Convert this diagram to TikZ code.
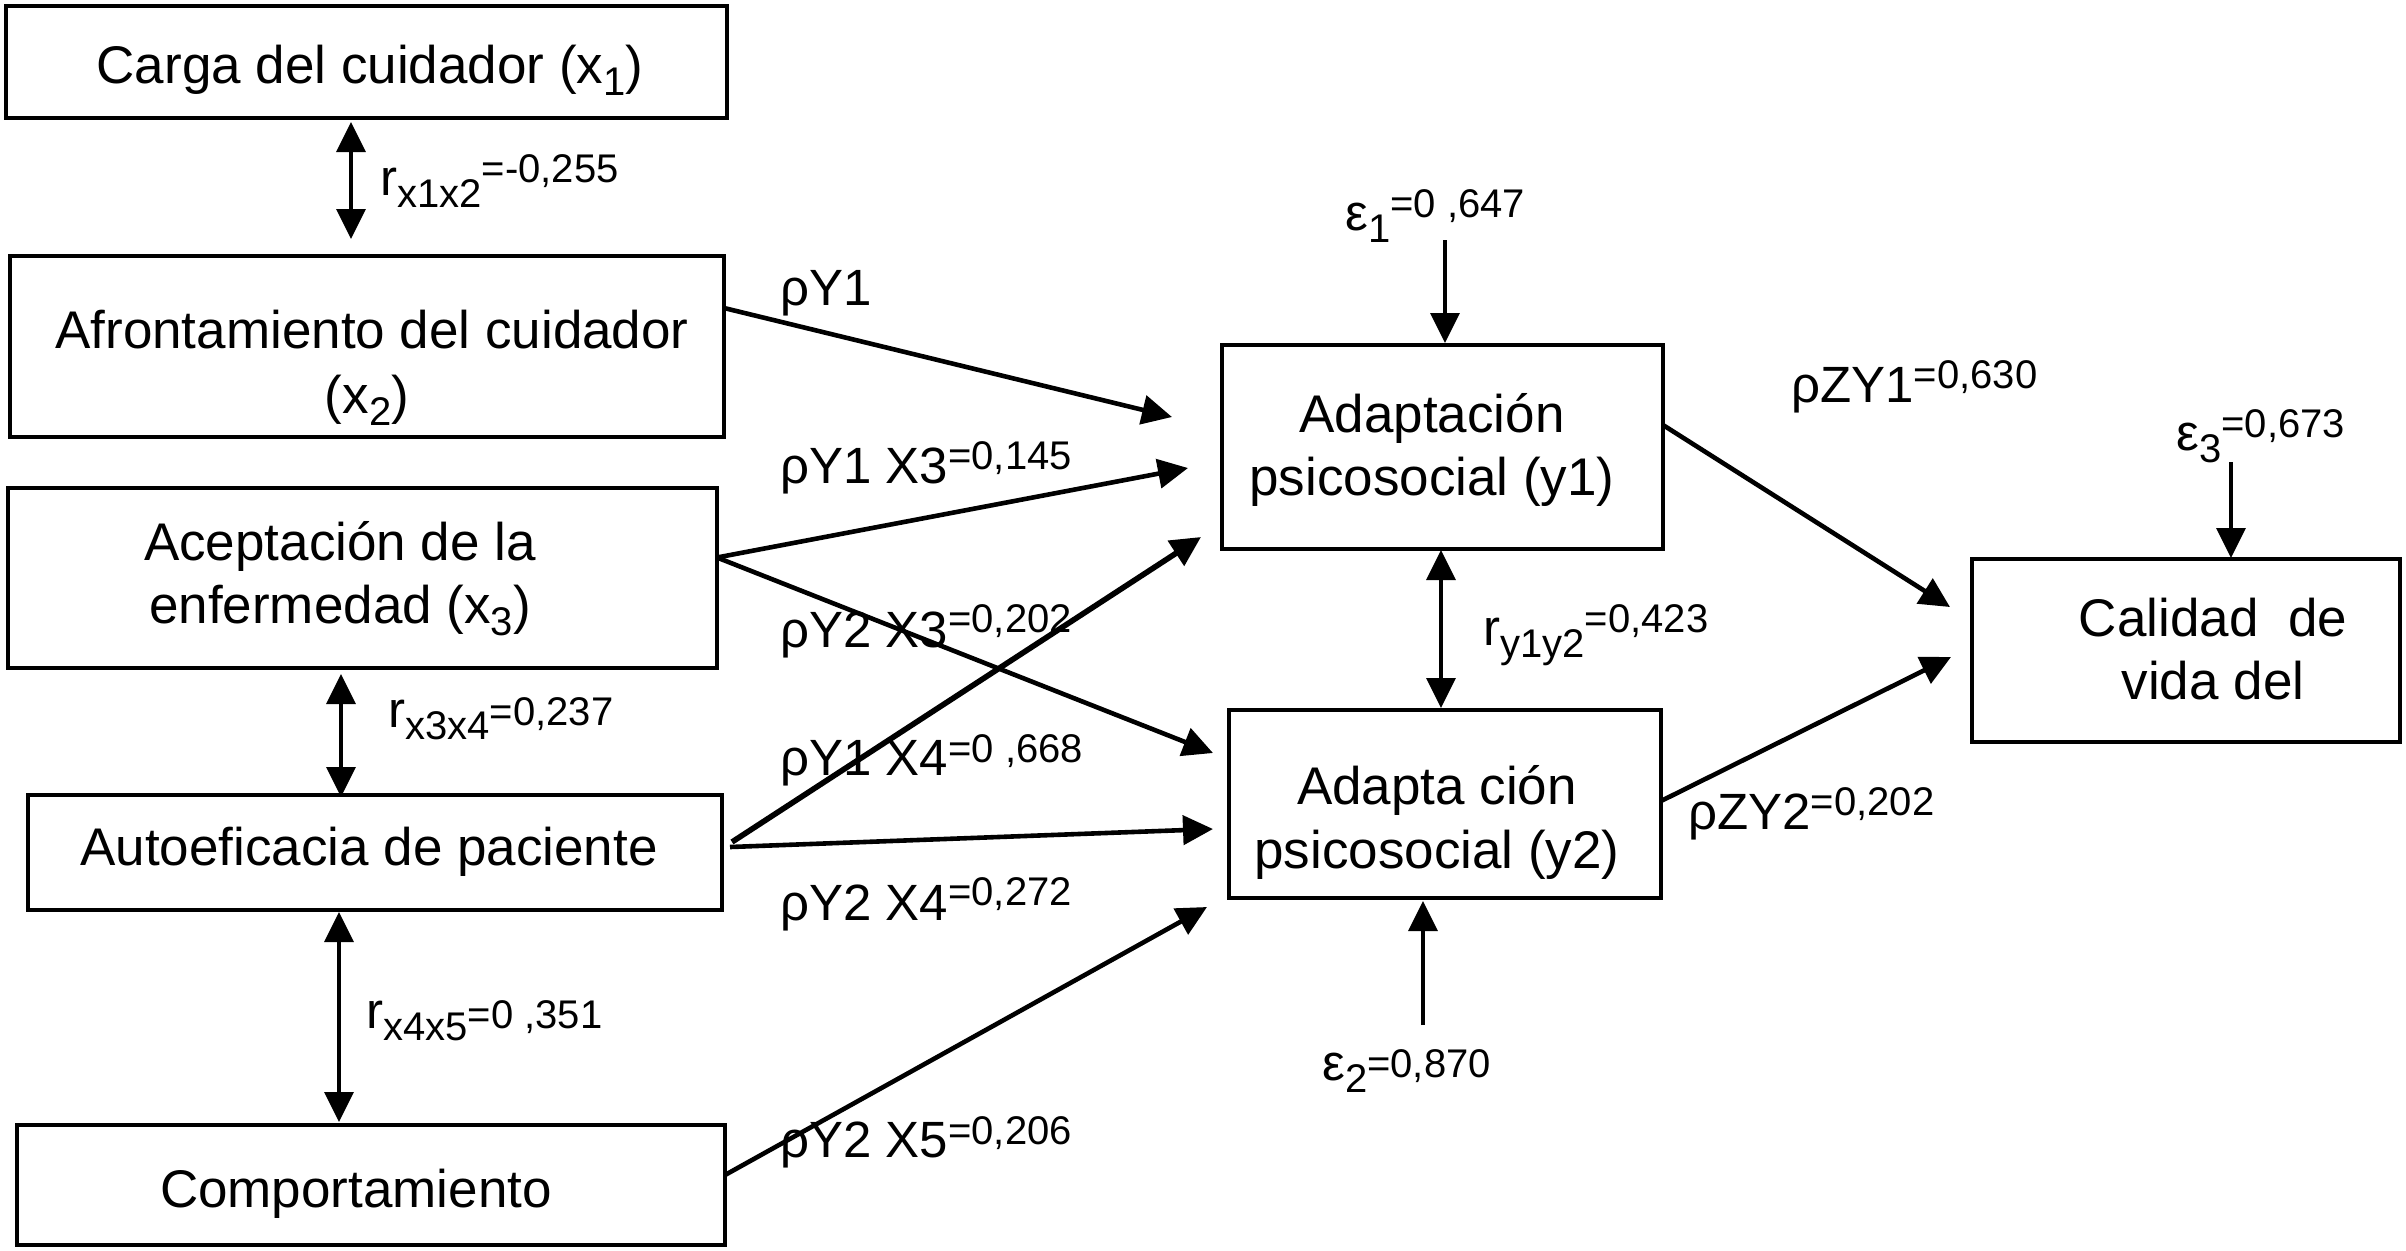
\documentclass[tikz,border=0pt]{standalone}
\usepackage{fontspec}
\setmainfont{Liberation Sans}
\usetikzlibrary{arrows.meta}
\newcommand\fbig{\fontsize{26.5}{32}\selectfont}
\newcommand\flab{\fontsize{25.5}{30}\selectfont}
\newcommand\fsm{\fontsize{20}{24}\selectfont}
\newcommand\lo[1]{\raisebox{-6pt}{\fsm #1}}
\newcommand\hi[2][7pt]{\raisebox{#1}{\fsm #2}}
\begin{document}
\begin{tikzpicture}[x=0.5pt,y=-0.5pt,
  box/.style={draw,line width=2.2pt,inner sep=0pt,outer sep=0pt},
  txt/.style={font=\fbig,inner sep=0pt,anchor=base},
  lbl/.style={font=\flab,inner sep=0pt,anchor=base west},
  arr/.style={-{Triangle[length=15pt,width=14.5pt]},line width=2.3pt},
  thinarr/.style={-{Triangle[length=15pt,width=14.5pt]},line width=1.7pt},
  dblarr/.style={{Triangle[length=15pt,width=14.5pt]}-{Triangle[length=15pt,width=14.5pt]},line width=1.7pt}]
\fill[white] (0,0) rectangle (2406,1250);
\useasboundingbox (0,0) rectangle (2406,1250);

% boxes
\node[box,minimum width=360.5pt,minimum height=56pt] (x1) at (366.5,62) {};
\node[box,minimum width=357pt,minimum height=90.5pt] (x2) at (367,346.5) {};
\node[box,minimum width=354.5pt,minimum height=90pt] (x3) at (362.5,578) {};
\node[box,minimum width=347pt,minimum height=57.5pt] (x4) at (375,852.5) {};
\node[box,minimum width=354pt,minimum height=60pt] (x5) at (371,1185) {};
\node[box,minimum width=220.5pt,minimum height=102pt] (y1) at (1442.5,447) {};
\node[box,minimum width=216pt,minimum height=94pt] (y2) at (1445,804) {};
\node[box,minimum width=214pt,minimum height=91.5pt] (z) at (2186,650.5) {};

% box texts
\node[txt] (x1t) at (370,83) {Carga del cuidador (x\lo{1})};
\node[txt] (x2t) at (372,348) {Afrontamiento del cuidador};
\node[txt] (x2u) at (367,413) {(x\lo{2})};
\node[txt] (x3t) at (340,560) {Aceptación de la};
\node[txt] (x3u) at (340,623) {enfermedad (x\lo{3})};
\node[txt] (x4t) at (369,865) {Autoeficacia de paciente};
\node[txt] (x5t) at (356,1207) {Comportamiento};
\node[txt] (y1t) at (1432,432) {Adaptación};
\node[txt] (y1u) at (1432,495) {psicosocial (y1)};
\node[txt] (y2t) at (1437,804) {Adapta ción};
\node[txt] (y2u) at (1437,868) {psicosocial (y2)};
\node[txt] (zt) at (2213,636) {Calidad\ \ de};
\node[txt] (zu) at (2213,699) {vida del};

% free ends
\coordinate (r12a) at (351,122); \coordinate (r12b) at (351,239);
\coordinate (r34a) at (341,674); \coordinate (r34b) at (341,797);
\coordinate (r45a) at (339,912); \coordinate (r45b) at (339,1122);
\coordinate (rya) at (1441,550); \coordinate (ryb) at (1441,708);
\coordinate (e1s) at (1445,240); \coordinate (e1t) at (1445,343);
\coordinate (e2s) at (1423,1025); \coordinate (e2t) at (1423,901);
\coordinate (e3s) at (2231,462); \coordinate (e3t) at (2231,558);
\coordinate (ta) at (1172,417);
\coordinate (tb) at (1188,468);
\coordinate (tc) at (1213,753);
\coordinate (td) at (1201,537);
\coordinate (te) at (1213,829);
\coordinate (tf) at (1207,907);
\coordinate (tg) at (1950,607);
\coordinate (th) at (1951,657);

% correlations and errors
\draw[dblarr] (r12a) -- (r12b);
\draw[dblarr] (r34a) -- (r34b);
\draw[dblarr] (r45a) -- (r45b);
\draw[dblarr] (rya) -- (ryb);
\draw[thinarr] (e1s) -- (e1t);
\draw[thinarr] (e2s) -- (e2t);
\draw[thinarr] (e3s) -- (e3t);

% paths
\draw[arr] ([yshift=19.25pt]x2.east) -- (ta);
\draw[arr] ([yshift=10.25pt]x3.east) -- (tb);
\draw[arr] ([yshift=10.25pt]x3.east) -- (tc);
\draw[arr,line width=2.8pt] ([xshift=5pt,yshift=5.25pt]x4.east) -- (td);
\draw[arr] ([xshift=4pt,yshift=2.75pt]x4.east) -- (te);
\draw[arr] ([yshift=5pt]x5.east) -- (tf);
\draw[arr] ([yshift=11pt]y1.east) -- (tg);
\draw[arr] ([yshift=1.5pt]y2.east) -- (th);

% labels
\node[lbl] (lr12) at (380,195) {r\lo{x1x2}\hi[6.5pt]{=-0,255}};
\node[lbl] (lr34) at (388,727) {r\lo{x3x4}\hi[1pt]{=0,237}};
\node[lbl] (lr45) at (366,1028) {r\lo{x4x5}\hi[0pt]{=0 ,351}};
\node[lbl] (lry) at (1483,645) {r\lo{y1y2}\hi[6.5pt]{=0,423}};
\node[lbl] (le1) at (1345,230) {ε\lo{1}\hi[6.5pt]{=0 ,647}};
\node[lbl] (le2) at (1322,1080) {ε\lo{2}\hi[1.5pt]{=0,870}};
\node[lbl] (le3) at (2176,450) {ε\lo{3}\hi[6.5pt]{=0,673}};
\node[lbl] (la) at (780,305) {ρY1};
\node[lbl] (lb) at (780,483) {ρY1 X3\hi{=0,145}};
\node[lbl] (lc) at (780,647) {ρY2 X3\hi[7.5pt]{=0,202}};
\node[lbl] (ld) at (780,775) {ρY1 X4\hi[6.5pt]{=0 ,668}};
\node[lbl] (le) at (780,920) {ρY2 X4\hi[7.5pt]{=0,272}};
\node[lbl] (lf) at (780,1157) {ρY2 X5\hi[6.5pt]{=0,206}};
\node[lbl] (lg) at (1791,402) {ρZY1\hi{=0,630}};
\node[lbl] (lh) at (1688,829) {ρZY2\hi{=0,202}};
\end{tikzpicture}
\end{document}
